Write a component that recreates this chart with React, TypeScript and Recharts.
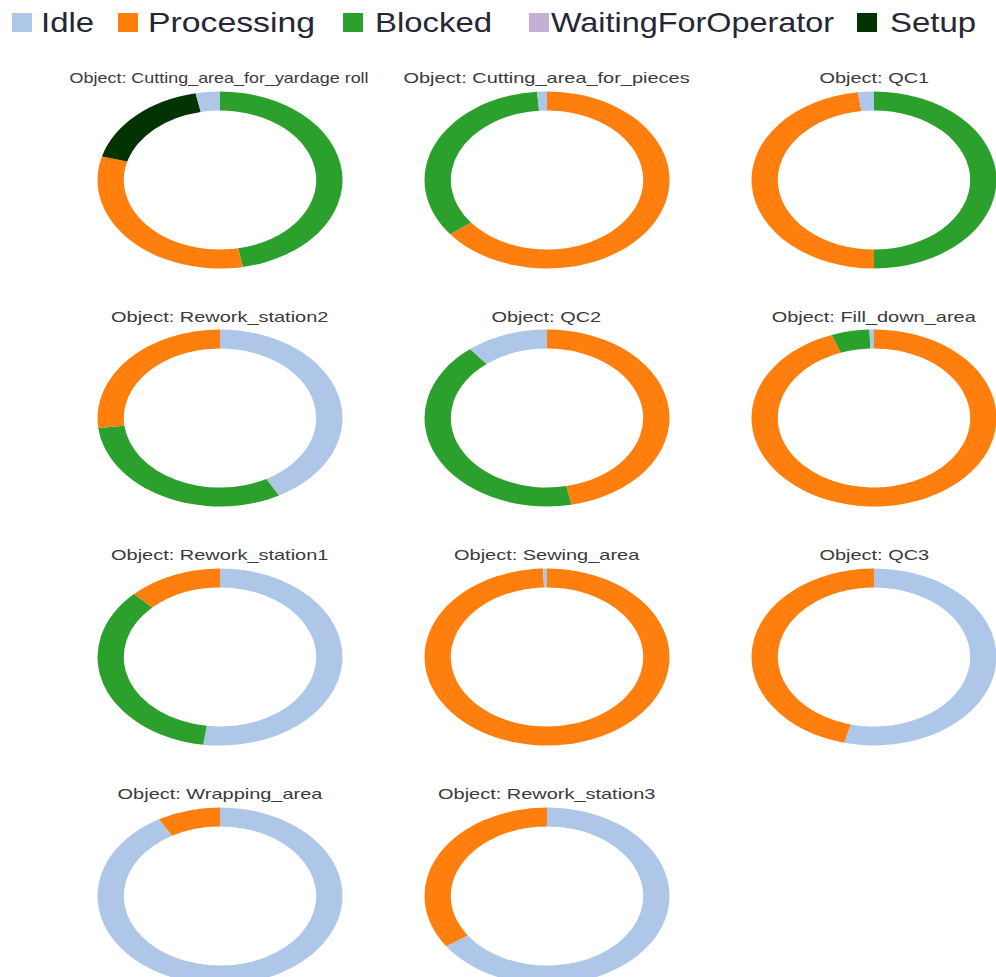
import React from "react";
import { PieChart, Pie, Cell } from "recharts";

// Share of time (%) each object spent in each state
const objects = [
  "Cutting_area_for_yardage roll",
  "Cutting_area_for_pieces",
  "QC1",
  "Rework_station2",
  "QC2",
  "Fill_down_area",
  "Rework_station1",
  "Sewing_area",
  "QC3",
  "Wrapping_area",
  "Rework_station3",
];
const idle = [3.2, 1.3, 2.1, 42.0, 10.8, 0.6, 52.2, 0.5, 53.9, 91.7, 65.4];
const processing = [32.3, 64.5, 47.9, 26.8, 46.8, 94.4, 12.4, 99.5, 46.1, 8.3, 34.6];
const blocked = [47.0, 34.2, 50.0, 31.2, 42.4, 5.0, 35.4, 0, 0, 0, 0];
const waitingForOperator = [0, 0, 0, 0, 0, 0, 0, 0, 0, 0, 0];
const setup = [17.5, 0, 0, 0, 0, 0, 0, 0, 0, 0, 0];

const states = ["Idle", "Processing", "Blocked", "WaitingForOperator", "Setup"];
const stateValues = [idle, processing, blocked, waitingForOperator, setup];
const stateColors = ["#aec7e8", "#ff7f0e", "#2ca02c", "#c5b0d5", "#033303"];

const COL_X = [219.5, 546.6, 874];
const ROW_Y = [179.5, 418.3, 657, 896];
const OUTER = 88.5;
const INNER = 69.5;
const STRETCH = 1.384;
const BOX = 184;

const TITLE_FONT = '15px "Liberation Sans", Arial, sans-serif';

let measureCtx: CanvasRenderingContext2D | null = null;
function textWidth(text: string) {
  if (!measureCtx) measureCtx = document.createElement("canvas").getContext("2d");
  if (!measureCtx) return text.length * 8;
  measureCtx.font = TITLE_FONT;
  return measureCtx.measureText(text).width;
}

function sliceData(i: number) {
  return states
    .map((name, k) => ({ name, value: stateValues[k][i], color: stateColors[k] }))
    .filter((d) => d.value > 0)
    .sort((a, b) => b.value - a.value);
}

function Donut({ index }: { index: number }) {
  const cx = COL_X[index % 3];
  const cy = ROW_Y[Math.floor(index / 3)];
  const title = `Object: ${objects[index]}`;
  const scale = Math.min(1.33, 299 / textWidth(title));
  const data = sliceData(index);

  return (
    <>
      <div
        style={{
          position: "absolute",
          left: cx - 200,
          top: cy - 97 - 12.7,
          width: 400,
          textAlign: "center",
          font: TITLE_FONT,
          lineHeight: "15px",
          color: "#3a3a3a",
          whiteSpace: "nowrap",
        }}
      >
        <span style={{ display: "inline-block", transform: `scaleX(${scale})` }}>{title}</span>
      </div>
      <div
        style={{
          position: "absolute",
          left: cx - BOX / 2,
          top: cy - BOX / 2,
          width: BOX,
          height: BOX,
          transform: `scaleX(${STRETCH})`,
          transformOrigin: "50% 50%",
        }}
      >
        <PieChart width={BOX} height={BOX} margin={{ top: 0, right: 0, bottom: 0, left: 0 }}>
          <Pie
            data={data}
            dataKey="value"
            nameKey="name"
            cx="50%"
            cy="50%"
            innerRadius={INNER}
            outerRadius={OUTER}
            startAngle={90}
            endAngle={-270}
            stroke="none"
            isAnimationActive={false}
          >
            {data.map((d) => (
              <Cell key={d.name} fill={d.color} />
            ))}
          </Pie>
        </PieChart>
      </div>
    </>
  );
}

const legendSquareX = [12, 118, 343, 529, 857];
const legendTextX = [41, 148, 375, 551, 890];
const legendTextW = [53, 167, 117, 283, 86];

function Legend() {
  return (
    <svg width={996} height={44} style={{ position: "absolute", left: 0, top: 0 }}>
      {states.map((s, k) => (
        <g key={s}>
          <rect x={legendSquareX[k]} y={13} width={20} height={19} fill={stateColors[k]} />
          <text
            x={legendTextX[k]}
            y={32}
            textLength={legendTextW[k]}
            lengthAdjust="spacingAndGlyphs"
            fontFamily='"Liberation Sans", Arial, sans-serif'
            fontSize={28}
            fill="#262634"
          >
            {s}
          </text>
        </g>
      ))}
    </svg>
  );
}

export default function App() {
  return (
    <div
      style={{
        position: "absolute",
        left: 0,
        top: 0,
        width: 996,
        height: 977,
        overflow: "hidden",
        background: "#fff",
      }}
    >
      <Legend />
      {objects.map((_, i) => (
        <Donut key={i} index={i} />
      ))}
    </div>
  );
}
